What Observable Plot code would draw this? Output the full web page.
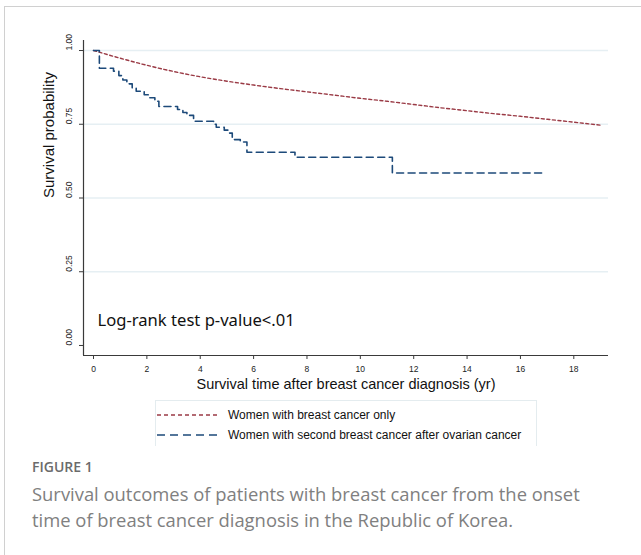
<!DOCTYPE html>
<html>
<head>
<meta charset="utf-8">
<script src="https://cdn.jsdelivr.net/npm/d3@7"></script>
<script src="https://cdn.jsdelivr.net/npm/@observablehq/plot@0.6"></script>
<style>
  html, body { margin: 0; padding: 0; background: #fff; }
  body { width: 641px; height: 555px; overflow: hidden; position: relative; font-family: "Liberation Sans", Arial, sans-serif; }
  #frame { position: absolute; left: 4px; top: 6px; width: 720px; height: 720px; border: 1px solid #d0d0d0; box-sizing: border-box; }
  #chart { position: absolute; left: 0; top: 0; }
  .axisline { position: absolute; background: #3a3a3a; }
  #legend { position: absolute; left: 155px; top: 400px; width: 382px; height: 46px; border: 1px solid #e4ecef; border-bottom: none; box-sizing: border-box; }
  .row { position: absolute; left: 0; height: 16px; display: flex; align-items: center; font-size: 12px; color: #111; }
  .row svg { margin-left: 1px; margin-right: 10px; }
  #fig { position: absolute; left: 32px; top: 457px; font-family: "Open Sans", sans-serif; font-size: 14px; font-weight: 600; color: #6b6b6b; }
  #cap { position: absolute; left: 32px; top: 481px; width: 600px; font-family: "Open Sans", sans-serif; font-size: 18.4px; line-height: 25.5px; color: #808080; white-space: nowrap; }
</style>
</head>
<body>
<div id="frame"></div>
<div id="chart"></div>
<div id="legend"></div>
<div id="fig">FIGURE 1</div>
<div id="cap">Survival outcomes of patients with breast cancer from the onset<br>time of breast cancer diagnosis in the Republic of Korea.</div>
<script>
// ---- data ----
const seriesNames = ["Women with breast cancer only", "Women with second breast cancer after ovarian cancer"];
const breastOnlyTime = [0, 1, 2, 3, 4, 5, 6, 7, 8, 9, 10, 11, 12, 13, 14, 15, 16, 17, 18, 19];
const breastOnlySurv = [1.000, 0.974, 0.950, 0.929, 0.911, 0.896, 0.883, 0.871, 0.860, 0.849, 0.838, 0.828, 0.817, 0.806, 0.796, 0.786, 0.777, 0.767, 0.757, 0.747];
const ovarianTime = [0, 0.22, 0.75, 0.95, 1.1, 1.25, 1.45, 1.6, 1.9, 2.05, 2.3, 2.45, 3.15, 3.35, 3.5, 3.75, 4.5, 4.6, 4.9, 5.1, 5.2, 5.5, 5.75, 7.55, 11.2, 16.8];
const ovarianSurv = [1.000, 0.940, 0.930, 0.915, 0.900, 0.887, 0.872, 0.862, 0.850, 0.840, 0.828, 0.810, 0.800, 0.790, 0.780, 0.760, 0.750, 0.740, 0.730, 0.720, 0.698, 0.690, 0.655, 0.638, 0.585, 0.585];
const xTicks = [0, 2, 4, 6, 8, 10, 12, 14, 16, 18];
const yTicks = [0, 0.25, 0.5, 0.75, 1];
const gridTicks = [0.25, 0.5, 0.75, 1];
const xLabel = "Survival time after breast cancer diagnosis (yr)";
const yLabel = "Survival probability";
const note = "Log-rank test p-value<.01";

const colors = ["#9a3a45", "#1d4a7a"];
const dashes = ["3,2.6", "7,4.5"];

const redRows = breastOnlyTime.map((t, i) => ({t, s: breastOnlySurv[i]}));
const blueRows = ovarianTime.map((t, i) => ({t, s: ovarianSurv[i]}));

const xDomain = [-0.375, 19.3];
const yDomain = [-0.034, 1.034];

const plot = Plot.plot({
  width: 641,
  height: 400,
  marginLeft: 83,
  marginRight: 33,
  marginTop: 40,
  marginBottom: 45,
  style: { fontFamily: "'Liberation Sans', Arial, sans-serif", color: "#222", background: "transparent" },
  x: { domain: xDomain },
  y: { domain: yDomain },
  marks: [
    Plot.gridY(gridTicks, { stroke: "#e6eff3", strokeOpacity: 1, strokeWidth: 1.5 }),
    Plot.ruleX([xDomain[0]], { stroke: "#3a3a3a", strokeOpacity: 1, strokeWidth: 1.2 }),
    Plot.ruleY([yDomain[0]], { stroke: "#3a3a3a", strokeOpacity: 1, strokeWidth: 1.2 }),
    Plot.axisY({ ticks: yTicks, tickSize: 4, tickFormat: () => "", label: null, stroke: "#3a3a3a" }),
    Plot.text(yTicks, { y: d => d, frameAnchor: "left", text: d3.format(".2f"), rotate: -90, dx: -14, fontSize: 8.5, fill: "#222" }),
    Plot.axisX({ ticks: xTicks, tickSize: 4, tickPadding: 6, fontSize: 8.5, label: null, stroke: "#3a3a3a", fill: "#222" }),
    Plot.line(redRows, { x: "t", y: "s", curve: "monotone-x", stroke: colors[0], strokeWidth: 1.4, strokeDasharray: dashes[0] }),
    Plot.line(blueRows, { x: "t", y: "s", curve: "step-after", stroke: colors[1], strokeWidth: 1.6, strokeDasharray: dashes[1] }),
    Plot.text([xLabel], { text: d => d, frameAnchor: "bottom", dy: 33, fontSize: 14.5, fill: "#111" }),
    Plot.text([yLabel], { text: d => d, frameAnchor: "left", rotate: -90, dx: -34, fontSize: 15, fill: "#111" }),
    Plot.text([note], { text: d => d, frameAnchor: "bottom-left", textAnchor: "start", dx: 14, dy: -30, fontSize: 16.6, fill: "#111", fontFamily: "'Noto Sans', sans-serif" })
  ]
});
document.getElementById("chart").appendChild(plot);

// Axis lines placed over the SVG, positioned from the Plot scales
const sx = plot.scale("x"), sy = plot.scale("y");
const x0 = Math.round(sx.apply(xDomain[0])), x1 = Math.round(sx.apply(xDomain[1]));
const y0 = Math.round(sy.apply(yDomain[0])), y1 = Math.round(sy.apply(yDomain[1]));
const vline = document.createElement("div");
vline.className = "axisline";
Object.assign(vline.style, { left: x0 + "px", top: y1 + "px", width: "1px", height: (y0 - y1 + 1) + "px" });
const hline = document.createElement("div");
hline.className = "axisline";
Object.assign(hline.style, { left: x0 + "px", top: y0 + "px", width: (x1 - x0) + "px", height: "1px" });
document.body.appendChild(vline);
document.body.appendChild(hline);

// legend
const legend = document.getElementById("legend");
[0, 1].forEach(i => {
  const row = document.createElement("div");
  row.className = "row";
  row.style.top = (i === 0 ? 6 : 26) + "px";
  row.innerHTML = `<svg width="61" height="4"><line x1="0" y1="2" x2="61" y2="2" stroke="${colors[i]}" stroke-width="1.4" stroke-dasharray="${i === 0 ? '4,3' : '8,5'}"/></svg><span>${seriesNames[i]}</span>`;
  legend.appendChild(row);
});
</script>
</body>
</html>
